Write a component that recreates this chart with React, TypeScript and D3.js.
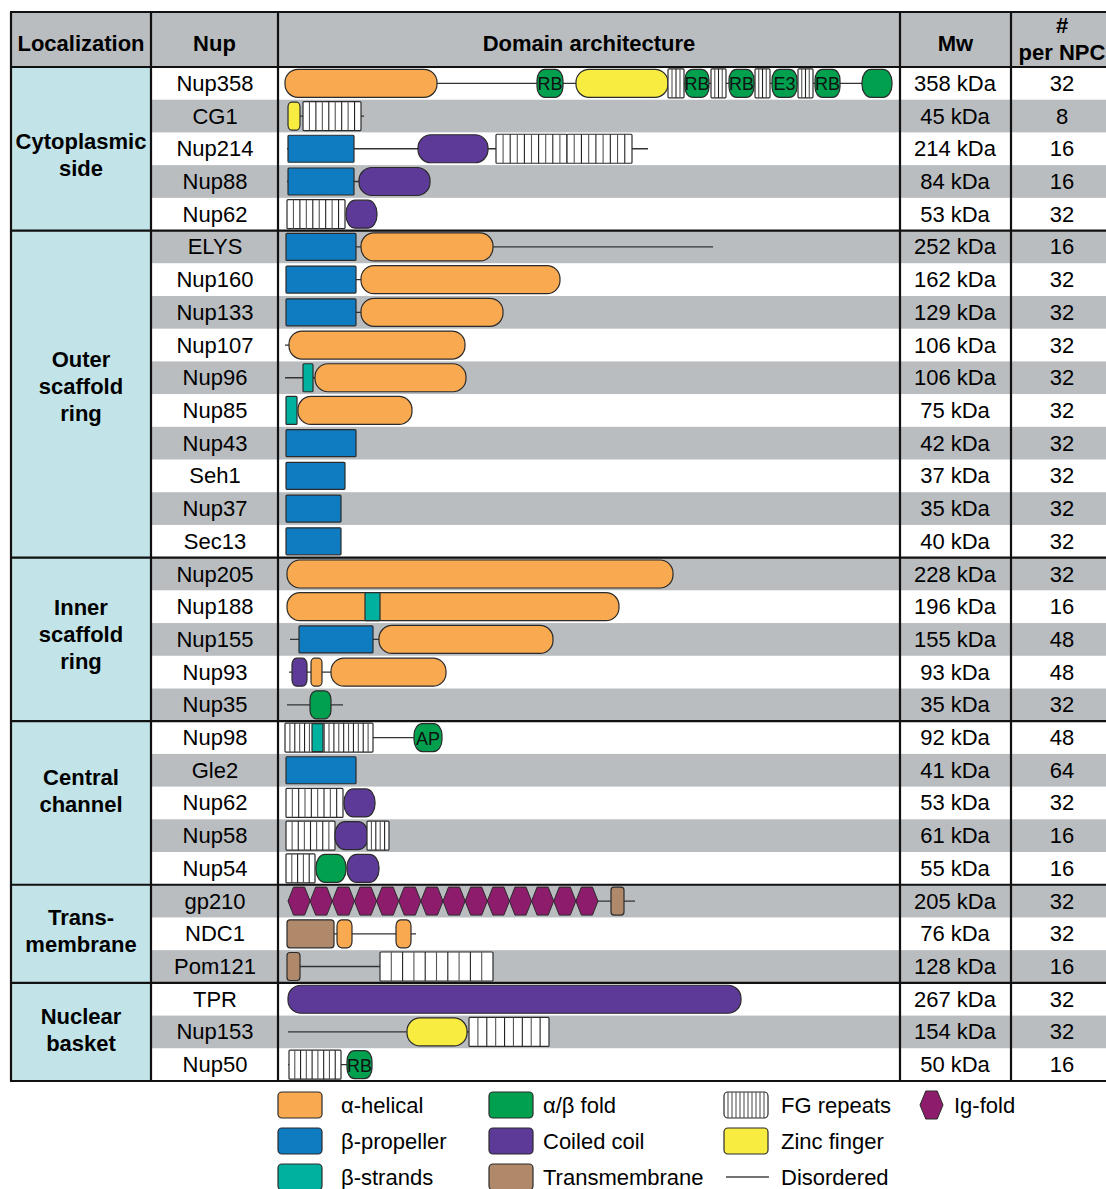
import * as d3 from "d3";
import { useEffect, useRef } from "react";

// table content
const nups = [
  "Nup358", "CG1", "Nup214", "Nup88", "Nup62",
  "ELYS", "Nup160", "Nup133", "Nup107", "Nup96", "Nup85", "Nup43", "Seh1", "Nup37", "Sec13",
  "Nup205", "Nup188", "Nup155", "Nup93", "Nup35",
  "Nup98", "Gle2", "Nup62", "Nup58", "Nup54",
  "gp210", "NDC1", "Pom121",
  "TPR", "Nup153", "Nup50",
];
const mwKda = [358, 45, 214, 84, 53, 252, 162, 129, 106, 106, 75, 42, 37, 35, 40, 228, 196, 155, 93, 35, 92, 41, 53, 61, 55, 205, 76, 128, 267, 154, 50];
const perNpc = [32, 8, 16, 16, 32, 16, 32, 32, 32, 32, 32, 32, 32, 32, 32, 32, 16, 48, 48, 32, 48, 64, 32, 16, 16, 32, 32, 16, 32, 32, 16];

const groupLabels = [
  ["Cytoplasmic", "side"],
  ["Outer", "scaffold", "ring"],
  ["Inner", "scaffold", "ring"],
  ["Central", "channel"],
  ["Trans-", "membrane"],
  ["Nuclear", "basket"],
];
const groupSizes = [5, 10, 5, 5, 3, 3];
// vertical nudge of each group label
const labelShift = [6, -8, -5, -12, -3, -2];

// domain architecture: [type, start, end, label-or-count]
type Dom = [string, number, number, (string | number)?];
const architecture: Dom[][] = [
  [["line", 0, 607], ["hel", 0, 152], ["ab", 252, 278, "RB"], ["zn", 291, 383], ["fg", 383, 399, 4], ["ab", 400, 424, "RB"], ["fg", 426, 441, 4], ["ab", 444, 469, "RB"], ["fg", 470, 485, 4], ["ab", 487, 512, "E3"], ["fg", 513, 528, 4], ["ab", 530, 555, "RB"], ["ab", 577, 607]],
  [["line", 3, 79], ["zn", 3, 15], ["fg", 18, 76, 9]],
  [["line", 2, 363], ["prop", 3, 69], ["cc", 133, 203], ["fg", 211, 282, 10], ["fg", 282, 347, 9]],
  [["line", 2, 145], ["prop", 3, 69], ["cc", 74, 145]],
  [["fg", 2, 60, 9], ["cc", 61, 92]],
  [["line", 1, 428], ["prop", 1, 71], ["hel", 76, 208]],
  [["line", 1, 100], ["prop", 1, 71], ["hel", 76, 275]],
  [["line", 1, 100], ["prop", 1, 71], ["hel", 76, 218]],
  [["line", 0, 180], ["hel", 4, 180]],
  [["line", 0, 181], ["str", 18, 28], ["hel", 30, 181]],
  [["str", 1, 12], ["hel", 13, 127]],
  [["prop", 1, 71]],
  [["prop", 1, 60]],
  [["prop", 1, 56]],
  [["prop", 1, 56]],
  [["hel", 2, 388]],
  [["hel", 2, 334], ["str", 80, 95]],
  [["line", 5, 268], ["prop", 14, 88], ["hel", 94, 268]],
  [["line", 4, 161], ["cc", 7, 22], ["hel", 26, 37], ["hel", 46, 161]],
  [["line", 2, 58], ["ab", 25, 46]],
  [["line", 0, 157], ["fg", 0, 88, 18], ["str", 27, 38], ["ab", 129, 157, "AP"]],
  [["prop", 1, 71]],
  [["fg", 1, 58, 9], ["cc", 59, 90]],
  [["fg", 1, 50, 8], ["cc", 50, 83], ["fg", 82, 104, 5]],
  [["fg", 1, 30, 5], ["ab", 31, 61], ["cc", 62, 94]],
  [["line", 3, 350], ["ig", 3, 313, 14], ["tm", 326, 339]],
  [["line", 2, 131], ["tm", 2, 49], ["hel", 52, 67], ["hel", 111, 126]],
  [["line", 2, 208], ["tm", 2, 15], ["fg", 95, 208, 10]],
  [["cc", 3, 456]],
  [["line", 3, 264], ["zn", 122, 182], ["fg", 184, 264, 9]],
  [["line", 3, 62], ["fg", 4, 56, 9], ["ab", 62, 87, "RB"]],
];

const colors: { [k: string]: string } = {
  hel: "#f9a94f",
  prop: "#0f7bc1",
  str: "#00b19f",
  ab: "#00a04f",
  cc: "#5d3a98",
  tm: "#b0896a",
  zn: "#f7ec3f",
  ig: "#8e1c6c",
  fg: "#ffffff",
};

const legendCols = [
  [["hel", "α-helical"], ["prop", "β-propeller"], ["str", "β-strands"]],
  [["ab", "α/β fold"], ["cc", "Coiled coil"], ["tm", "Transmembrane"]],
  [["fg", "FG repeats"], ["zn", "Zinc finger"], ["line", "Disordered"]],
  [["ig", "Ig-fold"]],
];

const App = () => {
  const ref = useRef<SVGSVGElement | null>(null);

  useEffect(() => {
    const W = 1106;
    const H = 1189;
    const font = "Arial, 'Liberation Sans', sans-serif";
    const svg = d3.select(ref.current);
    svg.selectAll("*").remove();
    svg.attr("width", W).attr("height", H).style("font-family", font);

    const colX = [11, 151, 278, 900, 1011, W];
    const top = 12;
    const headH = 55;
    const y0 = top + headH;
    const bottom = 1081;
    const rowH = (bottom - y0) / nups.length;
    const x = d3.scaleLinear().domain([0, 615]).range([285, 900]);
    const stripe = "#b9bdc0";

    // header
    svg.append("rect").attr("x", colX[0]).attr("y", top).attr("width", W - colX[0]).attr("height", headH).attr("fill", "#b9bdc0");
    // localization column
    svg.append("rect").attr("x", colX[0]).attr("y", y0).attr("width", colX[1] - colX[0]).attr("height", bottom - y0).attr("fill", "#c2e4e8");

    // row stripes
    svg.selectAll("rect.stripe")
      .data(nups)
      .enter()
      .append("rect")
      .attr("class", "stripe")
      .attr("x", colX[1])
      .attr("y", (_, i) => y0 + i * rowH)
      .attr("width", W - colX[1])
      .attr("height", rowH + 0.5)
      .attr("fill", (_, i) => (i % 2 === 1 ? stripe : "#ffffff"));

    // header text
    const head = svg.append("g").attr("font-weight", "bold").attr("font-size", 22).attr("text-anchor", "middle");
    const headers = ["Localization", "Nup", "Domain architecture", "Mw"];
    headers.forEach((h, i) => {
      head.append("text").attr("x", (colX[i] + colX[i + 1]) / 2).attr("y", 43).attr("dominant-baseline", "central").text(h);
    });
    head.append("text").attr("x", 1062).attr("y", 25).attr("dominant-baseline", "central").text("#");
    head.append("text").attr("x", 1062).attr("y", 52).attr("dominant-baseline", "central").text("per NPC");

    // group labels
    let acc = 0;
    const bounds: number[] = [y0];
    groupSizes.forEach((n, g) => {
      const gy0 = y0 + acc * rowH;
      const gy1 = y0 + (acc + n) * rowH;
      bounds.push(gy1);
      const lines = groupLabels[g];
      const cy = (gy0 + gy1) / 2 + labelShift[g];
      lines.forEach((l, k) => {
        svg.append("text")
          .attr("x", 81)
          .attr("y", cy + (k - (lines.length - 1) / 2) * 27)
          .attr("dominant-baseline", "central")
          .attr("text-anchor", "middle")
          .attr("font-weight", "bold")
          .attr("font-size", 22)
          .text(l);
      });
      acc += n;
    });

    // cells text
    const cells = svg.append("g").attr("font-size", 22).attr("text-anchor", "middle");
    nups.forEach((n, i) => {
      const cy = y0 + (i + 0.5) * rowH;
      cells.append("text").attr("x", 215).attr("y", cy).attr("dominant-baseline", "central").text(n);
      cells.append("text").attr("x", 955).attr("y", cy).attr("dominant-baseline", "central").text(`${mwKda[i]} kDa`);
      cells.append("text").attr("x", 1062).attr("y", cy).attr("dominant-baseline", "central").text(perNpc[i]);
    });

    // domain shapes
    const stroke = "#2b2b2b";
    const rounded = (t: string) => t === "hel" || t === "cc" || t === "zn" || t === "ab";
    const drawShape = (g: any, type: string, x0: number, x1: number, cy: number, extra?: string | number) => {
      const w = x1 - x0;
      if (type === "line") {
        g.append("line").attr("x1", x0).attr("x2", x1).attr("y1", cy).attr("y2", cy).attr("stroke", "#333").attr("stroke-width", 1.3);
        return;
      }
      if (type === "ig") {
        const n = (extra as number) || 1;
        const hw = w / n;
        const h = 28;
        d3.range(n).forEach((k) => {
          const a = x0 + k * hw;
          const pts = [
            [a, cy], [a + hw * 0.25, cy - h / 2], [a + hw * 0.75, cy - h / 2],
            [a + hw, cy], [a + hw * 0.75, cy + h / 2], [a + hw * 0.25, cy + h / 2],
          ];
          g.append("path")
            .attr("d", "M" + pts.map((p) => p.join(",")).join("L") + "Z")
            .attr("fill", colors.ig)
            .attr("stroke", stroke)
            .attr("stroke-width", 1);
        });
        return;
      }
      let h = 28;
      let rx = 1;
      let ry = 1;
      if (rounded(type)) {
        rx = Math.min(13, w * 0.3);
        ry = Math.min(13, rx * 1.4);
      } else if (type === "prop") {
        h = 27;
      } else if (type === "tm") {
        rx = 3;
        ry = 3;
      } else if (type === "fg") {
        h = 29;
      }
      g.append("rect")
        .attr("x", x0)
        .attr("y", cy - h / 2)
        .attr("width", w)
        .attr("height", h)
        .attr("rx", rx)
        .attr("ry", ry)
        .attr("fill", colors[type])
        .attr("stroke", stroke)
        .attr("stroke-width", 1.2);
      if (type === "fg") {
        const n = (extra as number) || 8;
        d3.range(1, n).forEach((k) => {
          const lx = x0 + (k * w) / n;
          g.append("line")
            .attr("x1", lx).attr("x2", lx)
            .attr("y1", cy - h / 2).attr("y2", cy + h / 2)
            .attr("stroke", k % 2 ? "#555" : "#222")
            .attr("stroke-width", 1.1);
        });
      }
      if (type === "ab" && typeof extra === "string") {
        g.append("text")
          .attr("x", (x0 + x1) / 2)
          .attr("y", cy + 1)
          .attr("dominant-baseline", "central")
          .attr("text-anchor", "middle")
          .attr("font-size", 18)
          .attr("fill", "#111")
          .text(extra);
      }
    };

    const doms = svg.append("g");
    architecture.forEach((row, i) => {
      const cy = y0 + (i + 0.5) * rowH;
      const g = doms.append("g");
      row.forEach((d) => drawShape(g, d[0], x(d[1]), x(d[2]), cy, d[3]));
    });

    // grid lines
    const grid = svg.append("g").attr("stroke", "#111").attr("stroke-width", 2.2);
    colX.slice(0, 5).forEach((cx) => {
      grid.append("line").attr("x1", cx).attr("x2", cx).attr("y1", top).attr("y2", bottom);
    });
    [top, ...bounds].forEach((by) => {
      grid.append("line").attr("x1", colX[0] - 1).attr("x2", W).attr("y1", by).attr("y2", by);
    });

    // legend
    const legX = [278, 489, 724, 920];
    const legTextX = [341, 543, 781, 954];
    const legY = [1105, 1141, 1177];
    const leg = svg.append("g");
    legendCols.forEach((col, c) => {
      col.forEach(([type, label], r) => {
        const cy = legY[r];
        const lx = legX[c];
        if (type === "line") {
          leg.append("line").attr("x1", lx + 2).attr("x2", lx + 45).attr("y1", cy).attr("y2", cy).attr("stroke", "#444").attr("stroke-width", 1.3);
        } else if (type === "ig") {
          drawShape(leg, "ig", lx, lx + 23, cy, 1);
        } else {
          leg.append("rect")
            .attr("x", lx).attr("y", cy - 13).attr("width", 44).attr("height", 26)
            .attr("rx", 4).attr("fill", colors[type]).attr("stroke", stroke).attr("stroke-width", 1.2);
          if (type === "fg") {
            d3.range(1, 11).forEach((k) => {
              const vx = lx + (k * 44) / 11;
              leg.append("line").attr("x1", vx).attr("x2", vx).attr("y1", cy - 13).attr("y2", cy + 13).attr("stroke", "#444").attr("stroke-width", 1);
            });
          }
        }
        leg.append("text")
          .attr("x", legTextX[c])
          .attr("y", cy)
          .attr("dominant-baseline", "central")
          .attr("font-size", 22)
          .text(label);
      });
    });
  }, []);

  return (
    <div style={{ position: "absolute", left: 0, top: 0 }}>
      <svg ref={ref}></svg>
    </div>
  );
};

export default App;
